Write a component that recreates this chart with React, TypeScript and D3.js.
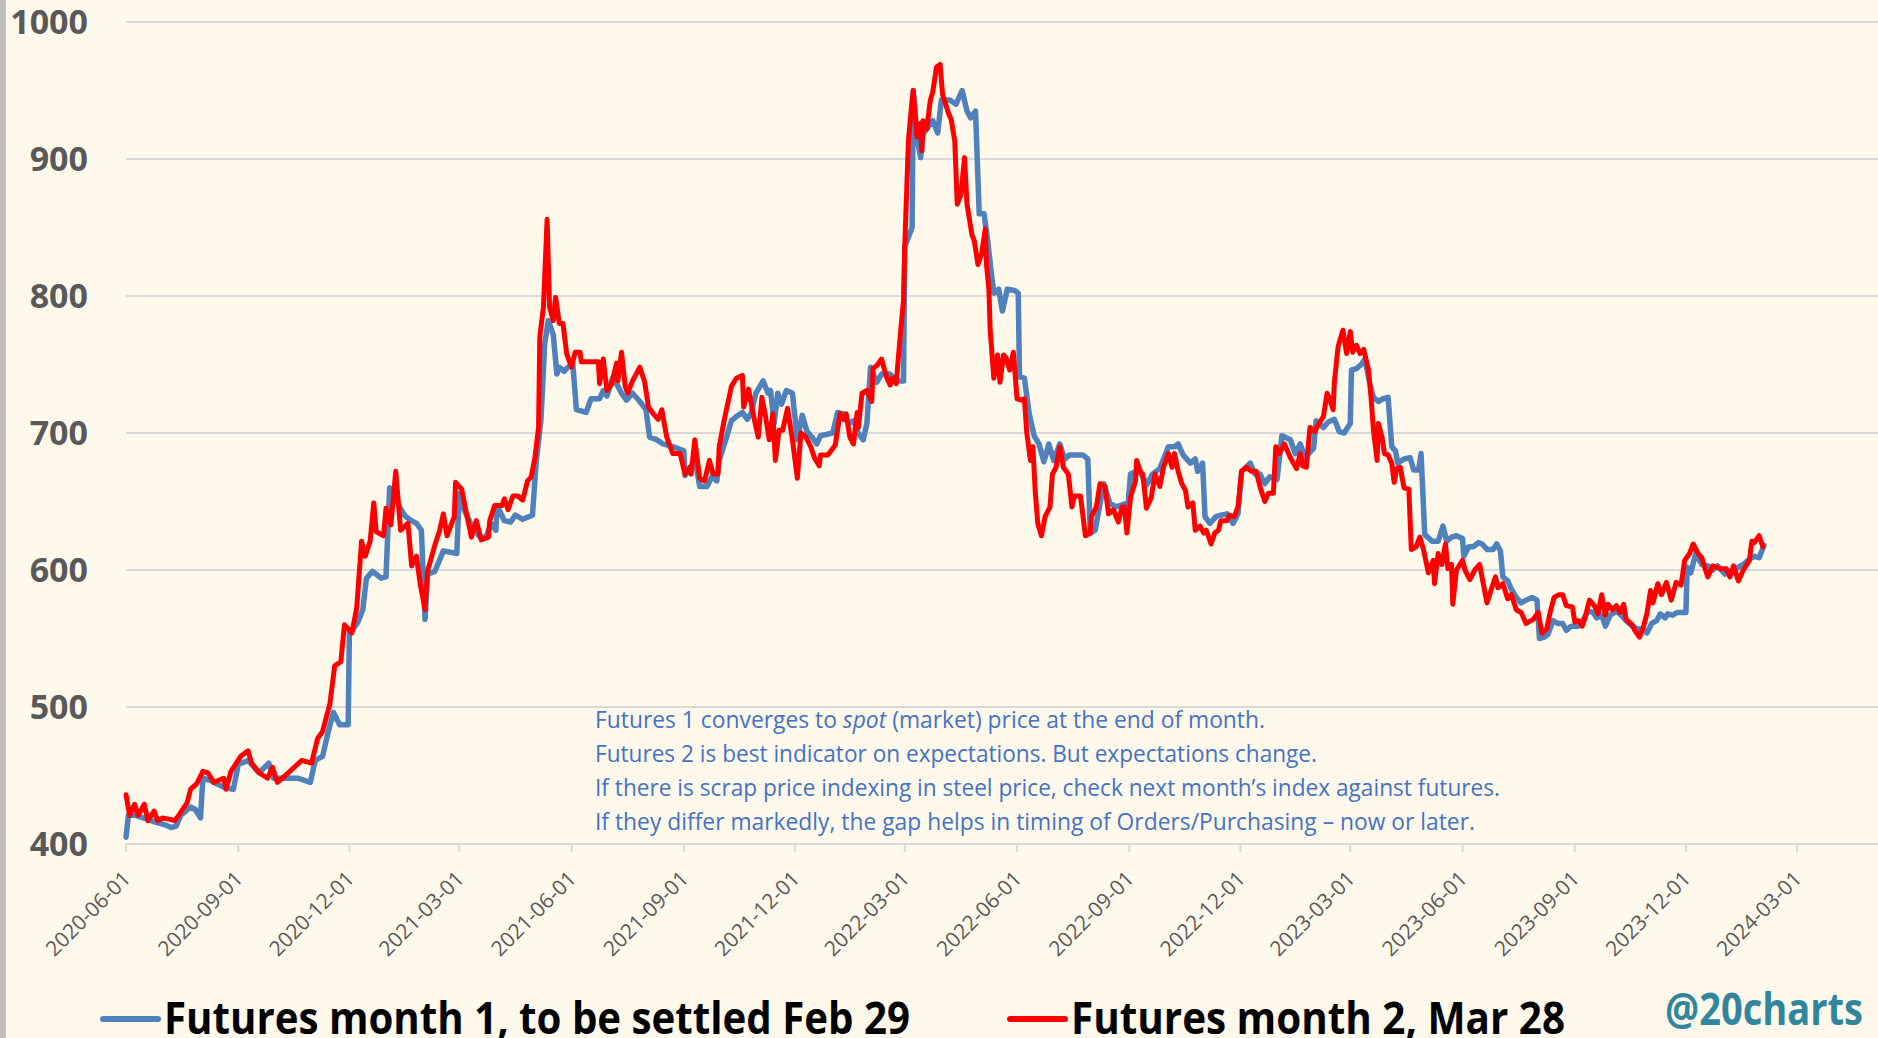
import { useEffect, useRef } from "react";
import * as d3 from "d3";

// y axis ticks and the quarterly date ticks printed under the axis
const yTicks = [400, 500, 600, 700, 800, 900, 1000];
const xTickLabels = [
  "2020-06-01", "2020-09-01", "2020-12-01", "2021-03-01", "2021-06-01", "2021-09-01",
  "2021-12-01", "2022-03-01", "2022-06-01", "2022-09-01", "2022-12-01", "2023-03-01",
  "2023-06-01", "2023-09-01", "2023-12-01", "2024-03-01",
];

// Futures month 1 (blue)
const futures1: [string, number][] = [
  ["2020-06-01", 405], ["2020-06-03", 421], ["2020-06-08", 421], ["2020-06-19", 418], ["2020-06-25", 416],
  ["2020-07-03", 414], ["2020-07-08", 412], ["2020-07-12", 413], ["2020-07-16", 421], ["2020-07-24", 427],
  ["2020-07-28", 425], ["2020-08-01", 419], ["2020-08-03", 448], ["2020-08-10", 446], ["2020-08-21", 441],
  ["2020-08-28", 440], ["2020-09-01", 458], ["2020-09-09", 461], ["2020-09-18", 452], ["2020-09-26", 459],
  ["2020-09-30", 448], ["2020-10-20", 448], ["2020-10-30", 445], ["2020-11-03", 461], ["2020-11-09", 464],
  ["2020-11-14", 483], ["2020-11-18", 496], ["2020-11-23", 487], ["2020-11-30", 487], ["2020-12-01", 553],
  ["2020-12-08", 562], ["2020-12-12", 571], ["2020-12-15", 594], ["2020-12-20", 599], ["2020-12-27", 594],
  ["2020-12-31", 595], ["2021-01-03", 660], ["2021-01-10", 648], ["2021-01-15", 640], ["2021-01-19", 637],
  ["2021-01-25", 634], ["2021-01-29", 629], ["2021-02-01", 564], ["2021-02-03", 597], ["2021-02-09", 599],
  ["2021-02-16", 614], ["2021-02-27", 612], ["2021-03-01", 656], ["2021-03-05", 644], ["2021-03-12", 631],
  ["2021-03-18", 624], ["2021-03-23", 624], ["2021-03-27", 634], ["2021-03-31", 629], ["2021-04-01", 647],
  ["2021-04-07", 636], ["2021-04-12", 635], ["2021-04-16", 640], ["2021-04-22", 637], ["2021-04-30", 640],
  ["2021-05-03", 678], ["2021-05-07", 710], ["2021-05-10", 765], ["2021-05-13", 782], ["2021-05-17", 772],
  ["2021-05-20", 743], ["2021-05-22", 748], ["2021-05-26", 745], ["2021-05-29", 748], ["2021-06-02", 751],
  ["2021-06-05", 717], ["2021-06-13", 715], ["2021-06-17", 725], ["2021-06-24", 725], ["2021-06-27", 731],
  ["2021-06-30", 727], ["2021-07-05", 741], ["2021-07-12", 729], ["2021-07-16", 724], ["2021-07-21", 729],
  ["2021-07-27", 723], ["2021-08-01", 717], ["2021-08-04", 697], ["2021-08-10", 695], ["2021-08-15", 692],
  ["2021-08-23", 690], ["2021-09-01", 687], ["2021-09-02", 669], ["2021-09-06", 673], ["2021-09-10", 682],
  ["2021-09-14", 661], ["2021-09-20", 661], ["2021-09-24", 668], ["2021-09-28", 665], ["2021-09-30", 680],
  ["2021-10-06", 697], ["2021-10-10", 709], ["2021-10-14", 712], ["2021-10-19", 715], ["2021-10-23", 710],
  ["2021-10-26", 714], ["2021-10-30", 729], ["2021-11-05", 738], ["2021-11-09", 729], ["2021-11-11", 731],
  ["2021-11-14", 707], ["2021-11-17", 729], ["2021-11-20", 721], ["2021-11-24", 731], ["2021-11-29", 729],
  ["2021-12-03", 695], ["2021-12-07", 713], ["2021-12-11", 701], ["2021-12-15", 697], ["2021-12-19", 692],
  ["2021-12-22", 698], ["2022-01-01", 700], ["2022-01-05", 715], ["2022-01-10", 714], ["2022-01-14", 707],
  ["2022-01-18", 709], ["2022-01-22", 700], ["2022-01-26", 695], ["2022-01-29", 707], ["2022-02-01", 748],
  ["2022-02-06", 737], ["2022-02-10", 743], ["2022-02-17", 743], ["2022-02-22", 738], ["2022-02-28", 738],
  ["2022-03-01", 836], ["2022-03-07", 850], ["2022-03-08", 950], ["2022-03-11", 916], ["2022-03-14", 901],
  ["2022-03-16", 918], ["2022-03-22", 926], ["2022-03-24", 928], ["2022-03-28", 919], ["2022-03-31", 943],
  ["2022-04-07", 943], ["2022-04-12", 940], ["2022-04-17", 950], ["2022-04-21", 935], ["2022-04-24", 930],
  ["2022-04-28", 935], ["2022-05-01", 860], ["2022-05-05", 860], ["2022-05-08", 840], ["2022-05-11", 816],
  ["2022-05-13", 802], ["2022-05-17", 805], ["2022-05-20", 789], ["2022-05-24", 805], ["2022-05-30", 804],
  ["2022-06-02", 802], ["2022-06-03", 741], ["2022-06-07", 740], ["2022-06-11", 714], ["2022-06-15", 698],
  ["2022-06-19", 692], ["2022-06-23", 679], ["2022-06-27", 692], ["2022-07-01", 680], ["2022-07-06", 692],
  ["2022-07-10", 681], ["2022-07-14", 684], ["2022-07-25", 684], ["2022-07-29", 681], ["2022-07-31", 627],
  ["2022-08-04", 629], ["2022-08-11", 663], ["2022-08-16", 649], ["2022-08-21", 646], ["2022-08-31", 649],
  ["2022-09-02", 670], ["2022-09-07", 672], ["2022-09-11", 670], ["2022-09-15", 662], ["2022-09-20", 670],
  ["2022-09-26", 674], ["2022-10-03", 690], ["2022-10-08", 690], ["2022-10-11", 692], ["2022-10-15", 684],
  ["2022-10-21", 678], ["2022-10-25", 681], ["2022-10-27", 672], ["2022-10-31", 678], ["2022-11-02", 639],
  ["2022-11-06", 634], ["2022-11-11", 639], ["2022-11-15", 640], ["2022-11-20", 641], ["2022-11-25", 634],
  ["2022-11-29", 641], ["2022-12-02", 672], ["2022-12-09", 678], ["2022-12-13", 670], ["2022-12-17", 670],
  ["2022-12-21", 663], ["2022-12-25", 668], ["2022-12-31", 666], ["2023-01-04", 698], ["2023-01-11", 695],
  ["2023-01-15", 685], ["2023-01-19", 692], ["2023-01-23", 682], ["2023-01-30", 689], ["2023-02-01", 709],
  ["2023-02-07", 704], ["2023-02-11", 708], ["2023-02-16", 710], ["2023-02-20", 701], ["2023-02-24", 700],
  ["2023-03-01", 707], ["2023-03-02", 746], ["2023-03-06", 747], ["2023-03-10", 750], ["2023-03-13", 754],
  ["2023-03-17", 736], ["2023-03-20", 726], ["2023-03-24", 723], ["2023-03-28", 725], ["2023-04-01", 726],
  ["2023-04-04", 690], ["2023-04-07", 687], ["2023-04-09", 678], ["2023-04-14", 681], ["2023-04-19", 682],
  ["2023-04-22", 673], ["2023-04-26", 673], ["2023-04-28", 685], ["2023-05-01", 626], ["2023-05-07", 621],
  ["2023-05-12", 621], ["2023-05-16", 632], ["2023-05-19", 621], ["2023-05-23", 624], ["2023-05-27", 625],
  ["2023-06-01", 623], ["2023-06-02", 610], ["2023-06-06", 617], ["2023-06-10", 617], ["2023-06-14", 620],
  ["2023-06-17", 619], ["2023-06-21", 615], ["2023-06-26", 615], ["2023-06-29", 619], ["2023-07-02", 614],
  ["2023-07-04", 595], ["2023-07-08", 592], ["2023-07-11", 586], ["2023-07-15", 580], ["2023-07-19", 576],
  ["2023-07-23", 578], ["2023-07-28", 580], ["2023-08-01", 578], ["2023-08-03", 550], ["2023-08-07", 551],
  ["2023-08-10", 553], ["2023-08-14", 563], ["2023-08-18", 561], ["2023-08-22", 561], ["2023-08-25", 556],
  ["2023-08-29", 559], ["2023-09-04", 559], ["2023-09-08", 564], ["2023-09-12", 570], ["2023-09-16", 569],
  ["2023-09-19", 565], ["2023-09-23", 567], ["2023-09-26", 559], ["2023-09-30", 567], ["2023-10-05", 570],
  ["2023-10-09", 567], ["2023-10-13", 563], ["2023-10-18", 559], ["2023-10-22", 557], ["2023-10-26", 557],
  ["2023-10-30", 554], ["2023-11-03", 561], ["2023-11-07", 563], ["2023-11-10", 568], ["2023-11-14", 565],
  ["2023-11-16", 568], ["2023-11-20", 567], ["2023-11-24", 569], ["2023-12-01", 569], ["2023-12-02", 602],
  ["2023-12-05", 598], ["2023-12-09", 612], ["2023-12-14", 604], ["2023-12-19", 603], ["2023-12-23", 600],
  ["2023-12-27", 603], ["2024-01-02", 597], ["2024-01-07", 599], ["2024-01-11", 601], ["2024-01-17", 604],
  ["2024-01-22", 608], ["2024-01-26", 610], ["2024-01-30", 609], ["2024-02-03", 618],
];

// Futures month 2 (red)
const futures2: [string, number][] = [
  ["2020-06-01", 436], ["2020-06-04", 421], ["2020-06-08", 429], ["2020-06-11", 421], ["2020-06-16", 429],
  ["2020-06-19", 417], ["2020-06-24", 424], ["2020-06-27", 417], ["2020-07-01", 419], ["2020-07-07", 418],
  ["2020-07-11", 417], ["2020-07-15", 422], ["2020-07-21", 430], ["2020-07-24", 440], ["2020-07-29", 444],
  ["2020-08-03", 453], ["2020-08-07", 452], ["2020-08-12", 445], ["2020-08-20", 448], ["2020-08-22", 440],
  ["2020-08-26", 453], ["2020-09-03", 464], ["2020-09-09", 468], ["2020-09-12", 459], ["2020-09-18", 452],
  ["2020-09-25", 448], ["2020-09-29", 456], ["2020-10-03", 445], ["2020-10-12", 452], ["2020-10-23", 461],
  ["2020-10-31", 459], ["2020-11-05", 477], ["2020-11-09", 482], ["2020-11-15", 502], ["2020-11-19", 530],
  ["2020-11-24", 533], ["2020-11-27", 560], ["2020-12-03", 554], ["2020-12-07", 572], ["2020-12-11", 621],
  ["2020-12-14", 610], ["2020-12-18", 621], ["2020-12-21", 649], ["2020-12-23", 628], ["2020-12-29", 625],
  ["2020-12-31", 645], ["2021-01-04", 633], ["2021-01-08", 672], ["2021-01-12", 629], ["2021-01-18", 634],
  ["2021-01-21", 603], ["2021-01-25", 610], ["2021-01-28", 590], ["2021-02-01", 571], ["2021-02-03", 599],
  ["2021-02-09", 618], ["2021-02-13", 629], ["2021-02-16", 641], ["2021-02-19", 625], ["2021-02-25", 639],
  ["2021-02-26", 664], ["2021-03-03", 659], ["2021-03-07", 641], ["2021-03-11", 624], ["2021-03-15", 636],
  ["2021-03-19", 622], ["2021-03-25", 624], ["2021-03-26", 636], ["2021-03-30", 647], ["2021-04-05", 647],
  ["2021-04-07", 652], ["2021-04-10", 644], ["2021-04-14", 654], ["2021-04-18", 654], ["2021-04-22", 651],
  ["2021-04-26", 665], ["2021-04-29", 668], ["2021-05-02", 682], ["2021-05-05", 704], ["2021-05-06", 770],
  ["2021-05-09", 792], ["2021-05-12", 856], ["2021-05-14", 792], ["2021-05-17", 782], ["2021-05-19", 799],
  ["2021-05-22", 780], ["2021-05-25", 780], ["2021-05-28", 758], ["2021-06-01", 748], ["2021-06-04", 759],
  ["2021-06-08", 759], ["2021-06-09", 752], ["2021-06-23", 752], ["2021-06-24", 736], ["2021-06-27", 754],
  ["2021-06-30", 731], ["2021-07-04", 736], ["2021-07-08", 751], ["2021-07-09", 738], ["2021-07-12", 759],
  ["2021-07-15", 734], ["2021-07-17", 729], ["2021-07-21", 738], ["2021-07-27", 748], ["2021-07-31", 737],
  ["2021-08-03", 719], ["2021-08-07", 714], ["2021-08-11", 710], ["2021-08-14", 717], ["2021-08-18", 697],
  ["2021-08-23", 685], ["2021-08-29", 685], ["2021-09-02", 670], ["2021-09-06", 675], ["2021-09-07", 670],
  ["2021-09-10", 695], ["2021-09-14", 667], ["2021-09-18", 665], ["2021-09-22", 680], ["2021-09-25", 670],
  ["2021-09-29", 670], ["2021-09-30", 690], ["2021-10-04", 709], ["2021-10-10", 734], ["2021-10-14", 740],
  ["2021-10-19", 742], ["2021-10-20", 719], ["2021-10-24", 732], ["2021-10-29", 709], ["2021-11-01", 697],
  ["2021-11-04", 726], ["2021-11-07", 712], ["2021-11-10", 695], ["2021-11-13", 714], ["2021-11-15", 680],
  ["2021-11-18", 702], ["2021-11-21", 702], ["2021-11-25", 718], ["2021-11-29", 695], ["2021-12-03", 667],
  ["2021-12-06", 700], ["2021-12-10", 697], ["2021-12-14", 690], ["2021-12-17", 682], ["2021-12-21", 676],
  ["2021-12-22", 684], ["2021-12-28", 684], ["2022-01-03", 691], ["2022-01-07", 714], ["2022-01-10", 710],
  ["2022-01-12", 714], ["2022-01-15", 697], ["2022-01-18", 692], ["2022-01-21", 715], ["2022-01-22", 704],
  ["2022-01-25", 729], ["2022-01-29", 731], ["2022-02-02", 723], ["2022-02-03", 747], ["2022-02-06", 749],
  ["2022-02-10", 754], ["2022-02-14", 741], ["2022-02-17", 735], ["2022-02-19", 740], ["2022-02-22", 736],
  ["2022-02-25", 768], ["2022-02-28", 797], ["2022-03-01", 836], ["2022-03-04", 913], ["2022-03-07", 943],
  ["2022-03-08", 950], ["2022-03-11", 916], ["2022-03-14", 926], ["2022-03-15", 906], ["2022-03-16", 928],
  ["2022-03-19", 922], ["2022-03-22", 943], ["2022-03-24", 949], ["2022-03-27", 967], ["2022-03-30", 969],
  ["2022-04-01", 947], ["2022-04-06", 933], ["2022-04-08", 929], ["2022-04-11", 913], ["2022-04-13", 867],
  ["2022-04-16", 874], ["2022-04-19", 901], ["2022-04-21", 867], ["2022-04-25", 845], ["2022-04-27", 840],
  ["2022-04-30", 823], ["2022-05-03", 831], ["2022-05-06", 849], ["2022-05-07", 823], ["2022-05-09", 804],
  ["2022-05-10", 775], ["2022-05-13", 740], ["2022-05-16", 757], ["2022-05-18", 737], ["2022-05-21", 757],
  ["2022-05-23", 755], ["2022-05-26", 746], ["2022-05-29", 759], ["2022-06-01", 725], ["2022-06-05", 724],
  ["2022-06-07", 725], ["2022-06-09", 700], ["2022-06-12", 680], ["2022-06-14", 690], ["2022-06-16", 656],
  ["2022-06-18", 634], ["2022-06-21", 625], ["2022-06-24", 639], ["2022-06-28", 646], ["2022-06-30", 670],
  ["2022-07-03", 675], ["2022-07-06", 690], ["2022-07-09", 675], ["2022-07-13", 670], ["2022-07-16", 646],
  ["2022-07-18", 654], ["2022-07-23", 654], ["2022-07-27", 625], ["2022-07-31", 627], ["2022-08-01", 639],
  ["2022-08-05", 646], ["2022-08-08", 663], ["2022-08-12", 661], ["2022-08-15", 641], ["2022-08-19", 644],
  ["2022-08-23", 635], ["2022-08-26", 646], ["2022-08-28", 646], ["2022-08-30", 627], ["2022-09-02", 653],
  ["2022-09-06", 665], ["2022-09-07", 680], ["2022-09-10", 672], ["2022-09-12", 670], ["2022-09-15", 645],
  ["2022-09-19", 653], ["2022-09-22", 670], ["2022-09-26", 661], ["2022-09-29", 675], ["2022-10-03", 685],
  ["2022-10-06", 675], ["2022-10-08", 685], ["2022-10-11", 672], ["2022-10-14", 663], ["2022-10-17", 658],
  ["2022-10-19", 646], ["2022-10-23", 649], ["2022-10-25", 629], ["2022-10-29", 632], ["2022-11-01", 627],
  ["2022-11-03", 629], ["2022-11-07", 619], ["2022-11-10", 627], ["2022-11-13", 629], ["2022-11-15", 636],
  ["2022-11-20", 636], ["2022-11-22", 640], ["2022-11-26", 639], ["2022-11-29", 646], ["2022-12-02", 672],
  ["2022-12-06", 675], ["2022-12-10", 672], ["2022-12-14", 672], ["2022-12-17", 661], ["2022-12-21", 650],
  ["2022-12-24", 656], ["2022-12-28", 656], ["2022-12-30", 690], ["2023-01-02", 685], ["2023-01-06", 692],
  ["2023-01-11", 682], ["2023-01-16", 674], ["2023-01-19", 685], ["2023-01-21", 676], ["2023-01-24", 675],
  ["2023-01-27", 704], ["2023-01-31", 701], ["2023-02-04", 708], ["2023-02-07", 712], ["2023-02-10", 729],
  ["2023-02-12", 725], ["2023-02-15", 717], ["2023-02-16", 737], ["2023-02-19", 763], ["2023-02-23", 775],
  ["2023-02-26", 758], ["2023-03-01", 774], ["2023-03-03", 759], ["2023-03-06", 764], ["2023-03-09", 758],
  ["2023-03-12", 761], ["2023-03-16", 746], ["2023-03-18", 726], ["2023-03-20", 702], ["2023-03-23", 680],
  ["2023-03-24", 707], ["2023-03-27", 697], ["2023-03-29", 685], ["2023-04-01", 684], ["2023-04-04", 678],
  ["2023-04-06", 664], ["2023-04-08", 674], ["2023-04-11", 675], ["2023-04-14", 660], ["2023-04-18", 659],
  ["2023-04-20", 615], ["2023-04-24", 617], ["2023-04-27", 624], ["2023-04-30", 615], ["2023-05-04", 598],
  ["2023-05-08", 607], ["2023-05-09", 590], ["2023-05-12", 612], ["2023-05-15", 604], ["2023-05-18", 619],
  ["2023-05-20", 601], ["2023-05-23", 604], ["2023-05-24", 575], ["2023-05-27", 600], ["2023-06-01", 607],
  ["2023-06-03", 600], ["2023-06-07", 593], ["2023-06-11", 600], ["2023-06-15", 604], ["2023-06-18", 590],
  ["2023-06-21", 576], ["2023-06-25", 587], ["2023-06-28", 595], ["2023-06-30", 587], ["2023-07-04", 590],
  ["2023-07-08", 579], ["2023-07-11", 582], ["2023-07-15", 571], ["2023-07-19", 569], ["2023-07-23", 561],
  ["2023-07-29", 564], ["2023-08-02", 569], ["2023-08-05", 554], ["2023-08-09", 557], ["2023-08-12", 570],
  ["2023-08-15", 580], ["2023-08-19", 582], ["2023-08-22", 582], ["2023-08-25", 574], ["2023-08-30", 573],
  ["2023-09-01", 562], ["2023-09-04", 563], ["2023-09-07", 559], ["2023-09-09", 564], ["2023-09-13", 578],
  ["2023-09-17", 574], ["2023-09-20", 568], ["2023-09-23", 582], ["2023-09-26", 567], ["2023-09-28", 575],
  ["2023-10-02", 571], ["2023-10-05", 574], ["2023-10-08", 569], ["2023-10-11", 575], ["2023-10-13", 564],
  ["2023-10-18", 560], ["2023-10-20", 556], ["2023-10-24", 551], ["2023-10-27", 558], ["2023-10-30", 568],
  ["2023-11-02", 585], ["2023-11-04", 576], ["2023-11-08", 590], ["2023-11-11", 582], ["2023-11-15", 591],
  ["2023-11-19", 578], ["2023-11-23", 591], ["2023-11-27", 589], ["2023-11-30", 607], ["2023-12-04", 612],
  ["2023-12-07", 619], ["2023-12-11", 612], ["2023-12-14", 609], ["2023-12-17", 600], ["2023-12-19", 595],
  ["2023-12-23", 603], ["2023-12-29", 601], ["2024-01-03", 601], ["2024-01-06", 595], ["2024-01-09", 603],
  ["2024-01-13", 592], ["2024-01-17", 600], ["2024-01-22", 607], ["2024-01-24", 621], ["2024-01-26", 620],
  ["2024-01-30", 625], ["2024-02-02", 617],
];

// annotation lines, [text, italic]
const noteLines: [string, boolean][][] = [
  [["Futures 1 converges to ", false], ["spot", true], [" (market) price at the end of month.", false]],
  [["Futures 2 is best indicator on expectations. But expectations change.", false]],
  [["If there is scrap price indexing in steel price, check next month\u2019s index against futures.", false]],
  [["If they differ markedly, the gap helps in timing of Orders/Purchasing \u2013 now or later.", false]],
];
const noteWidths = [670, 722, 905, 880];

const legendItems = [
  { label: "Futures month 1, to be settled Feb 29", color: "#4f81bd", x: 103, width: 746 },
  { label: "Futures month 2, Mar 28", color: "#ff0000", x: 1010, width: 494 },
];

const FONT = "'Open Sans', 'Liberation Sans', sans-serif";

export default function App() {
  const svgRef = useRef(null);

  useEffect(() => {
    if (!svgRef.current) return;

    const width = 1878;
    const height = 1038;
    const parse = d3.utcParse("%Y-%m-%d");

    const svg = d3.select(svgRef.current);
    svg.selectAll("*").remove();
    svg.attr("width", width).attr("height", height).attr("viewBox", `0 0 ${width} ${height}`);

    svg.append("rect").attr("width", width).attr("height", height).attr("fill", "#fff9ec");
    svg.append("rect").attr("width", 6).attr("height", height).attr("fill", "#bfbfbf");

    const x = d3
      .scaleUtc()
      .domain([parse("2020-06-01")!, parse("2024-03-01")!])
      .range([126, 1797]);

    const y = d3.scaleLinear().domain([400, 1000]).range([844, 22]);

    yTicks.forEach((t) => {
      svg
        .append("line")
        .attr("x1", x.range()[0])
        .attr("x2", width)
        .attr("y1", y(t))
        .attr("y2", y(t))
        .attr("stroke", "#d9d9d9")
        .attr("stroke-width", 2);

      svg
        .append("text")
        .attr("x", 88)
        .attr("y", y(t))
        .attr("dy", "0.36em")
        .attr("text-anchor", "end")
        .attr("font-family", FONT)
        .attr("font-weight", "bold")
        .attr("font-size", "34px")
        .attr("fill", "#595959")
        .text(t);
    });

    xTickLabels.forEach((lab) => {
      const xp = x(parse(lab)!);
      svg
        .append("line")
        .attr("x1", xp)
        .attr("x2", xp)
        .attr("y1", y(400))
        .attr("y2", y(400) + 8)
        .attr("stroke", "#d9d9d9")
        .attr("stroke-width", 2);

      svg
        .append("text")
        .attr("transform", `translate(${xp + 6},880) rotate(-45)`)
        .attr("text-anchor", "end")
        .attr("font-family", FONT)
        .attr("font-size", "21px")
        .attr("fill", "#595959")
        .text(lab);
    });

    const line = d3
      .line<[string, number]>()
      .x((d) => x(parse(d[0])!))
      .y((d) => y(d[1]));

    svg
      .append("path")
      .attr("d", line(futures1))
      .attr("fill", "none")
      .attr("stroke", "#4f81bd")
      .attr("stroke-width", 5.5)
      .attr("stroke-linejoin", "round")
      .attr("stroke-linecap", "round");

    svg
      .append("path")
      .attr("d", line(futures2))
      .attr("fill", "none")
      .attr("stroke", "#ff0000")
      .attr("stroke-width", 5)
      .attr("stroke-linejoin", "round")
      .attr("stroke-linecap", "round");

    noteLines.forEach((parts, i) => {
      const txt = svg
        .append("text")
        .attr("x", 595)
        .attr("y", 728 + i * 34)
        .attr("font-family", FONT)
        .attr("font-size", "23px")
        .attr("fill", "#4472c4")
        .attr("textLength", noteWidths[i])
        .attr("lengthAdjust", "spacingAndGlyphs");
      parts.forEach(([s, it]) => {
        txt.append("tspan").attr("font-style", it ? "italic" : "normal").text(s);
      });
    });

    legendItems.forEach((item) => {
      svg
        .append("line")
        .attr("x1", item.x)
        .attr("x2", item.x + 55)
        .attr("y1", 1019)
        .attr("y2", 1019)
        .attr("stroke", item.color)
        .attr("stroke-width", 6)
        .attr("stroke-linecap", "round");

      svg
        .append("text")
        .attr("x", item.x + 61)
        .attr("y", 1034)
        .attr("font-family", FONT)
        .attr("font-weight", "bold")
        .attr("font-size", "44px")
        .attr("fill", "#000")
        .attr("textLength", item.width)
        .attr("lengthAdjust", "spacingAndGlyphs")
        .text(item.label);
    });

    svg
      .append("text")
      .attr("x", 1665)
      .attr("y", 1025)
      .attr("font-family", FONT)
      .attr("font-weight", "bold")
      .attr("font-size", "44px")
      .attr("fill", "#31859c")
      .attr("textLength", 198)
      .attr("lengthAdjust", "spacingAndGlyphs")
      .text("@20charts");
  }, []);

  return <svg ref={svgRef} style={{ position: "absolute", left: 0, top: 0, display: "block" }} />;
}
